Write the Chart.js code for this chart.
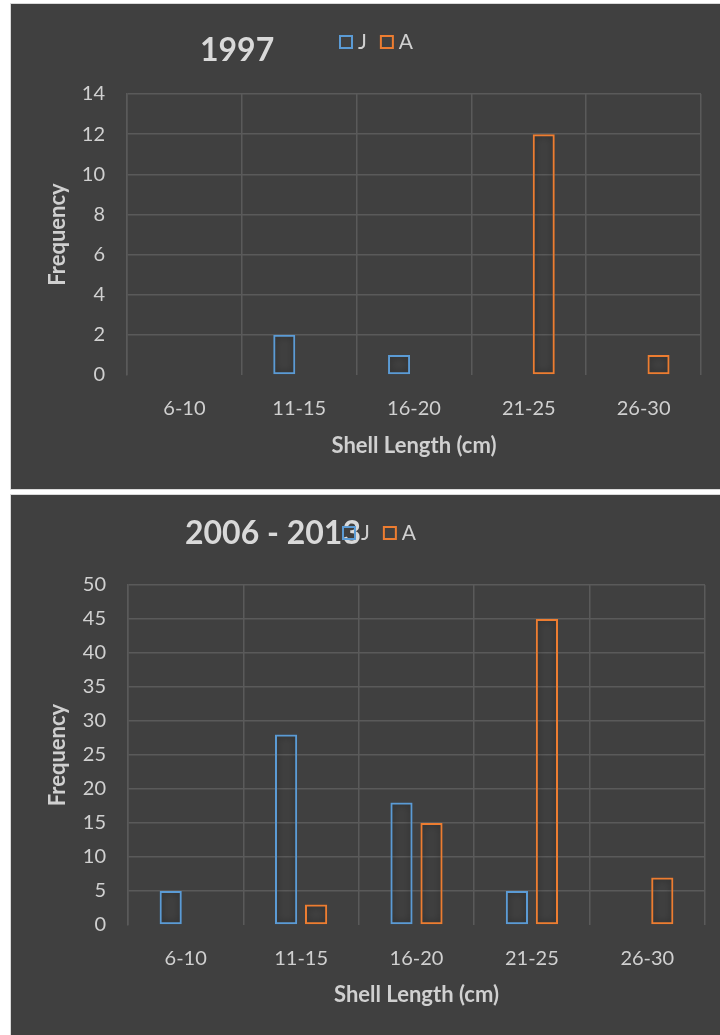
<!DOCTYPE html>
<html>
<head>
<meta charset="utf-8">
<script src="https://cdn.jsdelivr.net/npm/chart.js@4.4.1/dist/chart.umd.min.js"></script>
<style>
  body { margin: 0; background: #fff; }
  .panel { position: absolute; left: 11px; width: 709px; background: #404040; box-shadow: 0 0 0 1px #d9d9d9; }
  canvas { display: block; }
</style>
</head>
<body>
<div class="panel" style="top:4px;height:485px"><canvas id="chart1" width="709" height="485"></canvas></div>
<div class="panel" style="top:495px;height:540px"><canvas id="chart2" width="709" height="540"></canvas></div>
<script>
// shell length classes
var categories = ["6-10", "11-15", "16-20", "21-25", "26-30"];

// 1997 counts
var juveniles1997 = [0, 2, 1, 0, 0];
var adults1997 = [0, 0, 0, 12, 1];

// 2006 - 2013 counts
var juveniles0613 = [5, 28, 18, 5, 0];
var adults0613 = [0, 3, 15, 45, 7];

var blue = "#5B9BD5";
var orange = "#ED7D31";
var textColor = "#d0d0d0";
var gridColor = "#5a5a5a";
var font = "Lato";

// title + legend on one line, at the spots used in the original
var headerPlugin = {
  id: "header",
  afterDraw: function (chart, args, opts) {
    var ctx = chart.ctx;
    ctx.save();
    ctx.fillStyle = "#d9d9d9";
    ctx.font = "bold 32px " + font;
    ctx.textBaseline = "middle";
    ctx.textAlign = "left";
    ctx.fillText(opts.title, opts.titleX, opts.titleY);

    var x = opts.legendX;
    var y = opts.legendY;
    ctx.font = "21px " + font;
    chart.data.datasets.forEach(function (ds) {
      ctx.strokeStyle = ds.borderColor;
      ctx.lineWidth = 2;
      ctx.strokeRect(x + 1, y - 6, 12, 12);
      x += 19;
      ctx.fillStyle = textColor;
      ctx.fillText(ds.label, x, y);
      x += ctx.measureText(ds.label).width + 13;
    });
    ctx.restore();
  }
};

// soft dark glow round the bars
var glowPlugin = {
  id: "glow",
  beforeDatasetsDraw: function (chart) {
    chart.ctx.save();
    chart.ctx.shadowColor = "rgba(0,0,0,0.5)";
    chart.ctx.shadowBlur = 7;
  },
  afterDatasetsDraw: function (chart) {
    chart.ctx.restore();
  }
};

function makeChart(id, juv, adu, yMax, yStep, header, yWidth, xHeight, xTitlePad, padRight) {
  var ctx = document.getElementById(id).getContext("2d");
  return new Chart(ctx, {
    type: "bar",
    data: {
      labels: categories,
      datasets: [{
        label: "J",
        data: juv,
        backgroundColor: "rgba(0,0,0,0)",
        borderColor: blue,
        borderWidth: 2,
        borderSkipped: false
      }, {
        label: "A",
        data: adu,
        backgroundColor: "rgba(0,0,0,0)",
        borderColor: orange,
        borderWidth: 2,
        borderSkipped: false
      }]
    },
    plugins: [glowPlugin, headerPlugin],
    options: {
      responsive: false,
      animation: false,
      categoryPercentage: 0.52,
      barPercentage: 0.74,
      layout: { padding: { top: 90, right: padRight, left: 0, bottom: 0 } },
      plugins: {
        legend: { display: false },
        tooltip: { enabled: false },
        header: header
      },
      scales: {
        x: {
          grid: { color: gridColor, lineWidth: 1.5, drawTicks: false },
          border: { display: false },
          ticks: { color: textColor, padding: 22, font: { family: font, size: 20 } },
          title: {
            display: true,
            text: "Shell Length (cm)",
            color: textColor,
            padding: { top: 0, bottom: xTitlePad },
            font: { family: font, size: 22, weight: "bold" }
          },
          afterFit: function (scale) { scale.height = xHeight; }
        },
        y: {
          min: 0,
          max: yMax,
          grid: {
            drawTicks: false,
            lineWidth: 1.5,
            color: function (c) { return c.tick && c.tick.value === 0 ? "rgba(0,0,0,0)" : gridColor; }
          },
          border: { display: true, color: gridColor, width: 1.5 },
          ticks: { stepSize: yStep, color: textColor, padding: 22, font: { family: font, size: 20 } },
          title: {
            display: true,
            text: "Frequency",
            color: textColor,
            padding: { top: 34, bottom: 0 },
            font: { family: font, size: 22, weight: "bold" }
          },
          afterFit: function (scale) { scale.width = yWidth; }
        }
      }
    }
  });
}

makeChart("chart1", juveniles1997, adults1997, 14, 2,
  { title: "1997", titleX: 189, titleY: 47, legendX: 328, legendY: 38 },
  116, 114, 30, 19);

makeChart("chart2", juveniles0613, adults0613, 50, 5,
  { title: "2006 - 2013", titleX: 174, titleY: 39, legendX: 331, legendY: 38 },
  117, 110, 27, 15);
</script>
</body>
</html>
